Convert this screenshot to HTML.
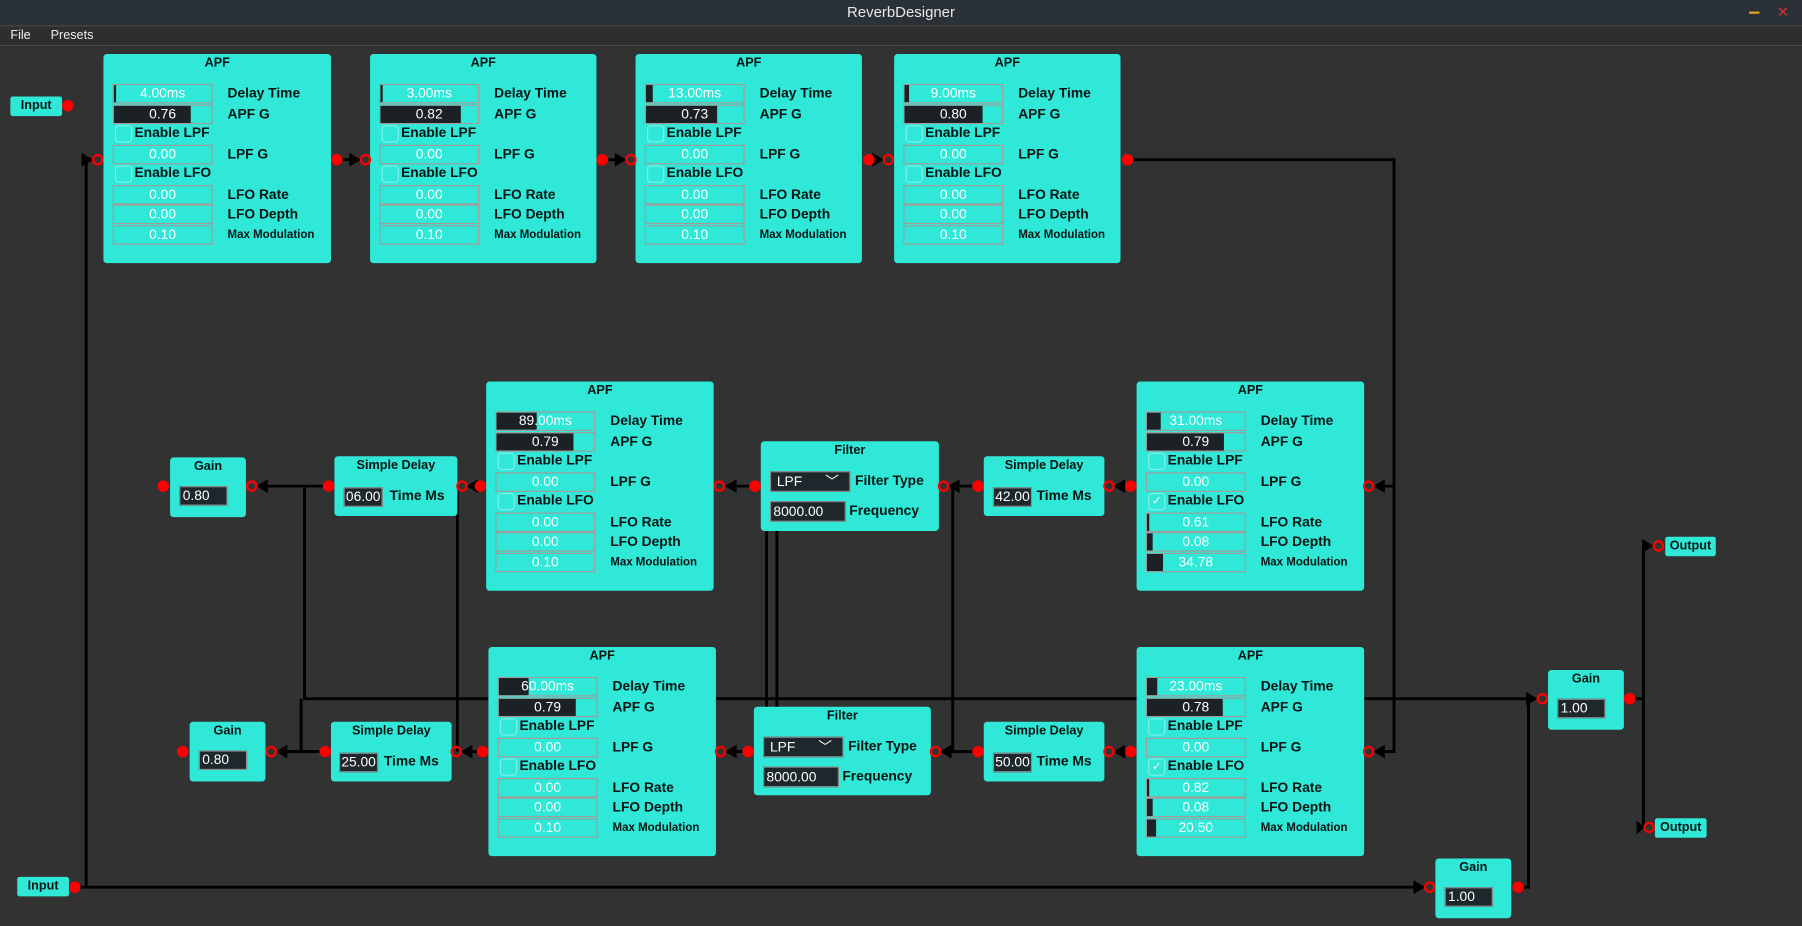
<!DOCTYPE html>
<html><head><meta charset="utf-8"><style>
html,body{margin:0;padding:0;width:1802px;height:926px;overflow:hidden;background:#323232}
#r{position:absolute;left:0;top:0;width:1568px;height:806px;transform:scale(1.14923);transform-origin:0 0;background:#323232;font-family:"Liberation Sans",sans-serif}
.tb{position:absolute;left:0;top:0;width:1568px;height:22px;background:#2a3137;color:#e8e8e8;font-size:13px;line-height:22px;text-align:center}
.mb{position:absolute;left:0;top:22px;width:1568px;height:16px;background:#2e2e2e;border-top:1px solid #454a4e;border-bottom:1px solid #4a4a4a;color:#eee;font-size:11px;line-height:16px}
.n{position:absolute;background:#2fe8d7;border-radius:3px}
.t{position:absolute;left:0;right:0;top:2px;text-align:center;font:bold 11px "Liberation Sans",sans-serif;color:#0c1414}
.f{position:absolute;left:8px;width:85px;height:15px;border:1px solid #a59a9a;overflow:hidden}
.f i{position:absolute;left:0;top:0;bottom:0;background:#1b2124}
.f span{position:relative;display:block;text-align:center;color:#fff;font:12px/15px "Liberation Sans",sans-serif}
.l{position:absolute;left:108px;font:bold 12px/17px "Liberation Sans",sans-serif;color:#0c1414;white-space:nowrap}
.l.s{font-size:10px}
.cb{position:absolute;left:10px;width:13px;height:13px;border:1px solid #7ff2e8;border-radius:3px;color:#fff;font-size:10px;line-height:13px;text-align:center}
.cl{position:absolute;left:27px;font:bold 12px/15px "Liberation Sans",sans-serif;color:#0c1414;white-space:nowrap}
.d{position:absolute;background:#1e272b;border:1px solid #8a9090;color:#fff;font:12px/15px "Liberation Sans",sans-serif;padding-left:2px;box-sizing:border-box}
.po{position:absolute;width:10px;height:10px;margin:-5px 0 0 -5px;border-radius:50%;background:#ff0000}
.pi{position:absolute;width:6px;height:6px;margin:-5px 0 0 -5px;border-radius:50%;border:2px solid #ff0000}
.io{position:absolute;background:#2fe8d7;border-radius:2px;font:bold 11px/17px "Liberation Sans",sans-serif;color:#0c1414;text-align:center}
svg{position:absolute;left:0;top:0}
</style></head><body><div id="r">
<div class="tb">ReverbDesigner</div>
<div style="position:absolute;left:1522px;top:10px;width:9px;height:2px;background:#e0a020"></div>
<div style="position:absolute;left:1546px;top:3px;color:#d03030;font-size:13px">✕</div>
<div class="mb"><span style="position:absolute;left:9px">File</span><span style="position:absolute;left:44px">Presets</span></div>

<svg width="1568" height="806">
<g stroke="#000" stroke-width="2.5" fill="none">
<path d="M65 772 H1238"/><path d="M75 772 V139 H80"/>
<path d="M293 139 H313"/><path d="M524 139 H544"/><path d="M756 139 H768"/>
<path d="M981 139 H1213 V654 H1196"/><path d="M1213 423 H1196"/>
<path d="M984 423 H970"/><path d="M851 423 H826"/><path d="M657 423 H631"/><path d="M418 423 H407"/><path d="M286 423 H224"/>
<path d="M984 654 H970"/><path d="M851 654 H819"/><path d="M651 654 H632"/><path d="M420 654 H402"/><path d="M283 654 H241"/>
<path d="M265 423 V608 H1337"/><path d="M262 608 V654"/>
<path d="M398 423 V654"/><path d="M667 423 V654"/><path d="M676 423 V654"/><path d="M829 423 V654"/>
<path d="M1418 608 H1430 V475 H1438"/><path d="M1430 608 V720 H1430"/>
<path d="M1321 772 H1330 V608 H1337"/>
</g>
<g fill="#000">
<polygon points="81,139 71,133 71,145"/>
<polygon points="314,139 304,133 304,145"/>
<polygon points="545,139 535,133 535,145"/>
<polygon points="769,139 759,133 759,145"/>
<polygon points="1195,423 1205,417 1205,429"/><polygon points="1195,654 1205,648 1205,660"/>
<polygon points="969,423 979,417 979,429"/><polygon points="825,423 835,417 835,429"/><polygon points="631,423 641,417 641,429"/><polygon points="406,423 416,417 416,429"/><polygon points="223,423 233,417 233,429"/>
<polygon points="969,654 979,648 979,660"/><polygon points="818,654 828,648 828,660"/><polygon points="631,654 641,648 641,660"/><polygon points="401,654 411,648 411,660"/><polygon points="240,654 250,648 250,660"/>
<polygon points="1338,608 1328,602 1328,614"/><polygon points="1240,772 1230,766 1230,778"/>
<polygon points="1439,475 1429,469 1429,481"/><polygon points="1431,720 1424,714 1424,726"/>
</g>
</svg>

<div class="io" style="left:9px;top:84px;width:45px;height:17px">Input</div>
<div class="io" style="left:15px;top:763px;width:45px;height:17px">Input</div>
<div class="io" style="left:1449px;top:467px;width:44px;height:17px">Output</div>
<div class="io" style="left:1440px;top:712px;width:45px;height:17px">Output</div>

<div class="n" style="left:90px;top:47px;width:198px;height:182px"><div class="t">APF</div>
<div class="f" style="top:26px"><i style="width:2px"></i><span>4.00ms</span></div><div class="l" style="top:26px">Delay Time</div>
<div class="f" style="top:44px"><i style="width:67px"></i><span>0.76</span></div><div class="l" style="top:44px">APF G</div>
<div class="cb" style="top:62px"></div><div class="cl" style="top:61px">Enable LPF</div>
<div class="f" style="top:79px"><span>0.00</span></div><div class="l" style="top:79px">LPF G</div>
<div class="cb" style="top:97px"></div><div class="cl" style="top:96px">Enable LFO</div>
<div class="f" style="top:114px"><span>0.00</span></div><div class="l" style="top:114px">LFO Rate</div>
<div class="f" style="top:131px"><span>0.00</span></div><div class="l" style="top:131px">LFO Depth</div>
<div class="f" style="top:149px"><span>0.10</span></div><div class="l s" style="top:149px">Max Modulation</div></div>

<div class="n" style="left:322px;top:47px;width:197px;height:182px"><div class="t">APF</div>
<div class="f" style="top:26px"><i style="width:2px"></i><span>3.00ms</span></div><div class="l" style="top:26px">Delay Time</div>
<div class="f" style="top:44px"><i style="width:70px"></i><span>0.82</span></div><div class="l" style="top:44px">APF G</div>
<div class="cb" style="top:62px"></div><div class="cl" style="top:61px">Enable LPF</div>
<div class="f" style="top:79px"><span>0.00</span></div><div class="l" style="top:79px">LPF G</div>
<div class="cb" style="top:97px"></div><div class="cl" style="top:96px">Enable LFO</div>
<div class="f" style="top:114px"><span>0.00</span></div><div class="l" style="top:114px">LFO Rate</div>
<div class="f" style="top:131px"><span>0.00</span></div><div class="l" style="top:131px">LFO Depth</div>
<div class="f" style="top:149px"><span>0.10</span></div><div class="l s" style="top:149px">Max Modulation</div></div>

<div class="n" style="left:553px;top:47px;width:197px;height:182px"><div class="t">APF</div>
<div class="f" style="top:26px"><i style="width:6px"></i><span>13.00ms</span></div><div class="l" style="top:26px">Delay Time</div>
<div class="f" style="top:44px"><i style="width:62px"></i><span>0.73</span></div><div class="l" style="top:44px">APF G</div>
<div class="cb" style="top:62px"></div><div class="cl" style="top:61px">Enable LPF</div>
<div class="f" style="top:79px"><span>0.00</span></div><div class="l" style="top:79px">LPF G</div>
<div class="cb" style="top:97px"></div><div class="cl" style="top:96px">Enable LFO</div>
<div class="f" style="top:114px"><span>0.00</span></div><div class="l" style="top:114px">LFO Rate</div>
<div class="f" style="top:131px"><span>0.00</span></div><div class="l" style="top:131px">LFO Depth</div>
<div class="f" style="top:149px"><span>0.10</span></div><div class="l s" style="top:149px">Max Modulation</div></div>

<div class="n" style="left:778px;top:47px;width:197px;height:182px"><div class="t">APF</div>
<div class="f" style="top:26px"><i style="width:4px"></i><span>9.00ms</span></div><div class="l" style="top:26px">Delay Time</div>
<div class="f" style="top:44px"><i style="width:68px"></i><span>0.80</span></div><div class="l" style="top:44px">APF G</div>
<div class="cb" style="top:62px"></div><div class="cl" style="top:61px">Enable LPF</div>
<div class="f" style="top:79px"><span>0.00</span></div><div class="l" style="top:79px">LPF G</div>
<div class="cb" style="top:97px"></div><div class="cl" style="top:96px">Enable LFO</div>
<div class="f" style="top:114px"><span>0.00</span></div><div class="l" style="top:114px">LFO Rate</div>
<div class="f" style="top:131px"><span>0.00</span></div><div class="l" style="top:131px">LFO Depth</div>
<div class="f" style="top:149px"><span>0.10</span></div><div class="l s" style="top:149px">Max Modulation</div></div>

<div class="n" style="left:423px;top:332px;width:198px;height:182px"><div class="t">APF</div>
<div class="f" style="top:26px"><i style="width:35px"></i><span>89.00ms</span></div><div class="l" style="top:26px">Delay Time</div>
<div class="f" style="top:44px"><i style="width:67px"></i><span>0.79</span></div><div class="l" style="top:44px">APF G</div>
<div class="cb" style="top:62px"></div><div class="cl" style="top:61px">Enable LPF</div>
<div class="f" style="top:79px"><span>0.00</span></div><div class="l" style="top:79px">LPF G</div>
<div class="cb" style="top:97px"></div><div class="cl" style="top:96px">Enable LFO</div>
<div class="f" style="top:114px"><span>0.00</span></div><div class="l" style="top:114px">LFO Rate</div>
<div class="f" style="top:131px"><span>0.00</span></div><div class="l" style="top:131px">LFO Depth</div>
<div class="f" style="top:149px"><span>0.10</span></div><div class="l s" style="top:149px">Max Modulation</div></div>

<div class="n" style="left:989px;top:332px;width:198px;height:182px"><div class="t">APF</div>
<div class="f" style="top:26px"><i style="width:12px"></i><span>31.00ms</span></div><div class="l" style="top:26px">Delay Time</div>
<div class="f" style="top:44px"><i style="width:67px"></i><span>0.79</span></div><div class="l" style="top:44px">APF G</div>
<div class="cb" style="top:62px"></div><div class="cl" style="top:61px">Enable LPF</div>
<div class="f" style="top:79px"><span>0.00</span></div><div class="l" style="top:79px">LPF G</div>
<div class="cb" style="top:97px">✓</div><div class="cl" style="top:96px">Enable LFO</div>
<div class="f" style="top:114px"><i style="width:2px"></i><span>0.61</span></div><div class="l" style="top:114px">LFO Rate</div>
<div class="f" style="top:131px"><i style="width:5px"></i><span>0.08</span></div><div class="l" style="top:131px">LFO Depth</div>
<div class="f" style="top:149px"><i style="width:14px"></i><span>34.78</span></div><div class="l s" style="top:149px">Max Modulation</div></div>

<div class="n" style="left:425px;top:563px;width:198px;height:182px"><div class="t">APF</div>
<div class="f" style="top:26px"><i style="width:26px"></i><span>60.00ms</span></div><div class="l" style="top:26px">Delay Time</div>
<div class="f" style="top:44px"><i style="width:67px"></i><span>0.79</span></div><div class="l" style="top:44px">APF G</div>
<div class="cb" style="top:62px"></div><div class="cl" style="top:61px">Enable LPF</div>
<div class="f" style="top:79px"><span>0.00</span></div><div class="l" style="top:79px">LPF G</div>
<div class="cb" style="top:97px"></div><div class="cl" style="top:96px">Enable LFO</div>
<div class="f" style="top:114px"><span>0.00</span></div><div class="l" style="top:114px">LFO Rate</div>
<div class="f" style="top:131px"><span>0.00</span></div><div class="l" style="top:131px">LFO Depth</div>
<div class="f" style="top:149px"><span>0.10</span></div><div class="l s" style="top:149px">Max Modulation</div></div>

<div class="n" style="left:989px;top:563px;width:198px;height:182px"><div class="t">APF</div>
<div class="f" style="top:26px"><i style="width:9px"></i><span>23.00ms</span></div><div class="l" style="top:26px">Delay Time</div>
<div class="f" style="top:44px"><i style="width:66px"></i><span>0.78</span></div><div class="l" style="top:44px">APF G</div>
<div class="cb" style="top:62px"></div><div class="cl" style="top:61px">Enable LPF</div>
<div class="f" style="top:79px"><span>0.00</span></div><div class="l" style="top:79px">LPF G</div>
<div class="cb" style="top:97px">✓</div><div class="cl" style="top:96px">Enable LFO</div>
<div class="f" style="top:114px"><i style="width:2px"></i><span>0.82</span></div><div class="l" style="top:114px">LFO Rate</div>
<div class="f" style="top:131px"><i style="width:5px"></i><span>0.08</span></div><div class="l" style="top:131px">LFO Depth</div>
<div class="f" style="top:149px"><i style="width:8px"></i><span>20.50</span></div><div class="l s" style="top:149px">Max Modulation</div></div>

<div class="n" style="left:662px;top:384px;width:155px;height:78px"><div class="t">Filter</div>
<div class="d" style="left:8px;top:26px;width:70px;height:18px;line-height:16px;padding-left:5px">LPF<span style="position:absolute;right:9px;top:0">﹀</span></div>
<div class="l" style="left:82px;top:26px">Filter Type</div>
<div class="d" style="left:8px;top:52px;width:66px;height:18px;line-height:16px">8000.00</div>
<div class="l" style="left:77px;top:52px">Frequency</div></div>

<div class="n" style="left:656px;top:615px;width:154px;height:77px"><div class="t">Filter</div>
<div class="d" style="left:8px;top:26px;width:70px;height:18px;line-height:16px;padding-left:5px">LPF<span style="position:absolute;right:9px;top:0">﹀</span></div>
<div class="l" style="left:82px;top:26px">Filter Type</div>
<div class="d" style="left:8px;top:52px;width:66px;height:18px;line-height:16px">8000.00</div>
<div class="l" style="left:77px;top:52px">Frequency</div></div>

<div class="n" style="left:291px;top:397px;width:107px;height:52px"><div class="t">Simple Delay</div>
<div class="d" style="left:8px;top:27px;width:34px;height:17px;padding-left:1px">06.00</div><div class="l" style="left:48px;top:26px">Time Ms</div></div>
<div class="n" style="left:856px;top:397px;width:105px;height:52px"><div class="t">Simple Delay</div>
<div class="d" style="left:8px;top:27px;width:34px;height:17px;padding-left:1px">42.00</div><div class="l" style="left:46px;top:26px">Time Ms</div></div>
<div class="n" style="left:288px;top:628px;width:105px;height:52px"><div class="t">Simple Delay</div>
<div class="d" style="left:7px;top:27px;width:34px;height:17px;padding-left:1px">25.00</div><div class="l" style="left:46px;top:26px">Time Ms</div></div>
<div class="n" style="left:856px;top:628px;width:105px;height:52px"><div class="t">Simple Delay</div>
<div class="d" style="left:8px;top:27px;width:34px;height:17px;padding-left:1px">50.00</div><div class="l" style="left:46px;top:26px">Time Ms</div></div>

<div class="n" style="left:148px;top:398px;width:66px;height:52px"><div class="t">Gain</div><div class="d" style="left:8px;top:25px;width:42px;height:17px">0.80</div></div>
<div class="n" style="left:165px;top:628px;width:66px;height:52px"><div class="t">Gain</div><div class="d" style="left:8px;top:25px;width:42px;height:17px">0.80</div></div>
<div class="n" style="left:1347px;top:583px;width:66px;height:52px"><div class="t">Gain</div><div class="d" style="left:8px;top:25px;width:42px;height:17px">1.00</div></div>
<div class="n" style="left:1249px;top:747px;width:66px;height:52px"><div class="t">Gain</div><div class="d" style="left:8px;top:25px;width:42px;height:17px">1.00</div></div>

<div class="po" style="left:59px;top:92px"></div><div class="po" style="left:65px;top:772px"></div>
<div class="pi" style="left:85px;top:139px"></div><div class="po" style="left:293px;top:139px"></div>
<div class="pi" style="left:318px;top:139px"></div><div class="po" style="left:524px;top:139px"></div>
<div class="pi" style="left:549px;top:139px"></div><div class="po" style="left:756px;top:139px"></div>
<div class="pi" style="left:773px;top:139px"></div><div class="po" style="left:981px;top:139px"></div>
<div class="pi" style="left:626px;top:423px"></div><div class="po" style="left:418px;top:423px"></div>
<div class="pi" style="left:821px;top:423px"></div><div class="po" style="left:657px;top:423px"></div>
<div class="pi" style="left:402px;top:423px"></div><div class="po" style="left:286px;top:423px"></div>
<div class="pi" style="left:965px;top:423px"></div><div class="po" style="left:851px;top:423px"></div>
<div class="pi" style="left:1191px;top:423px"></div><div class="po" style="left:984px;top:423px"></div>
<div class="pi" style="left:219px;top:423px"></div><div class="po" style="left:142px;top:423px"></div>
<div class="pi" style="left:627px;top:654px"></div><div class="po" style="left:420px;top:654px"></div>
<div class="pi" style="left:814px;top:654px"></div><div class="po" style="left:651px;top:654px"></div>
<div class="pi" style="left:397px;top:654px"></div><div class="po" style="left:283px;top:654px"></div>
<div class="pi" style="left:965px;top:654px"></div><div class="po" style="left:851px;top:654px"></div>
<div class="pi" style="left:1191px;top:654px"></div><div class="po" style="left:984px;top:654px"></div>
<div class="pi" style="left:236px;top:654px"></div><div class="po" style="left:159px;top:654px"></div>
<div class="pi" style="left:1342px;top:608px"></div><div class="po" style="left:1418px;top:608px"></div>
<div class="pi" style="left:1244px;top:772px"></div><div class="po" style="left:1321px;top:772px"></div>
<div class="pi" style="left:1443px;top:475px"></div><div class="pi" style="left:1435px;top:720px"></div>
</div></body></html>
